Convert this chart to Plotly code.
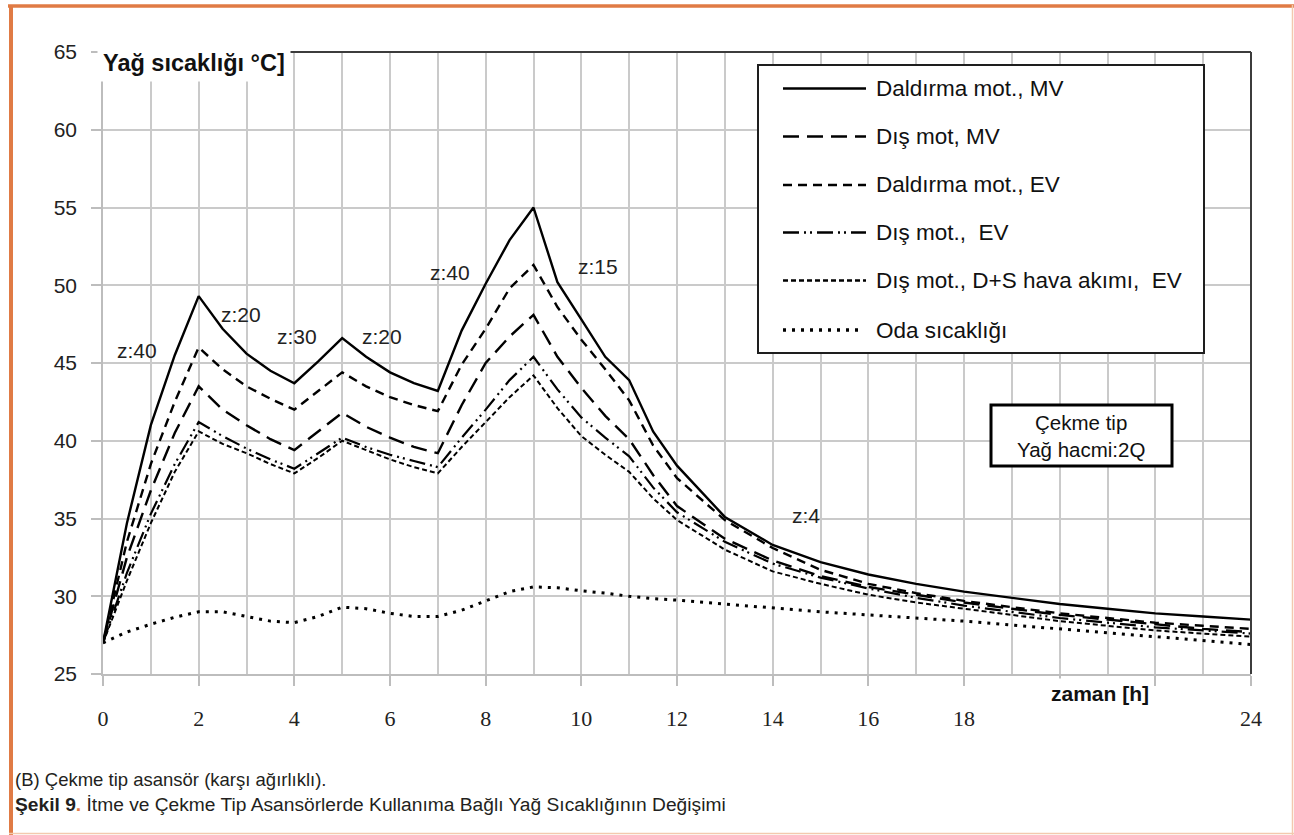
import plotly.graph_objects as go

# ---------------- data ----------------
hours = [0, 0.5, 1, 1.5, 2, 2.5, 3, 3.5, 4, 4.5, 5, 5.5, 6, 6.5, 7, 7.5, 8, 8.5, 9,
         9.5, 10, 10.5, 11, 11.5, 12, 13, 14, 15, 16, 17, 18, 19, 20, 21, 22, 23, 24]

daldirma_mv = [27.0, 34.7, 41.0, 45.5, 49.3, 47.2, 45.6, 44.5, 43.7, 45.1, 46.6, 45.4, 44.4, 43.7, 43.2,
               47.1, 50.1, 52.9, 55.0, 50.2, 47.8, 45.4, 43.9, 40.6, 38.4, 35.1, 33.3, 32.2, 31.4,
               30.8, 30.3, 29.9, 29.5, 29.2, 28.9, 28.7, 28.5]
dis_mv = [27.0, 32.5, 36.8, 40.5, 43.5, 42.0, 41.0, 40.1, 39.4, 40.6, 41.8, 40.9, 40.2, 39.6, 39.2,
          42.3, 45.0, 46.7, 48.1, 45.4, 43.4, 41.6, 40.1, 37.8, 35.8, 33.7, 32.3, 31.3, 30.6,
          30.1, 29.6, 29.2, 28.8, 28.5, 28.2, 27.9, 27.7]
daldirma_ev = [27.0, 33.5, 38.5, 42.5, 46.0, 44.6, 43.5, 42.7, 42.0, 43.2, 44.4, 43.5, 42.8, 42.3, 41.9,
               44.9, 47.2, 49.8, 51.3, 48.6, 46.5, 44.6, 42.6, 39.7, 37.6, 34.9, 33.1, 31.7, 30.8,
               30.2, 29.7, 29.3, 28.9, 28.6, 28.3, 28.1, 27.9]
dis_ev = [27.0, 31.5, 35.3, 38.5, 41.2, 40.3, 39.5, 38.8, 38.2, 39.2, 40.2, 39.6, 39.1, 38.7, 38.3,
          40.2, 42.0, 43.9, 45.4, 43.3, 41.5, 40.2, 39.0, 37.0, 35.4, 33.5, 32.1, 31.2, 30.5,
          29.9, 29.4, 29.0, 28.6, 28.3, 28.0, 27.8, 27.6]
dis_ds_ev = [27.0, 31.0, 34.7, 38.0, 40.6, 39.8, 39.2, 38.5, 37.9, 38.9, 40.0, 39.4, 38.8, 38.3, 37.9,
             39.6, 41.2, 42.8, 44.2, 42.1, 40.3, 39.1, 38.0, 36.3, 34.9, 33.0, 31.6, 30.8, 30.1,
             29.6, 29.2, 28.8, 28.4, 28.1, 27.8, 27.6, 27.4]
oda = [27.0, 27.7, 28.2, 28.65, 29.0, 29.0, 28.7, 28.4, 28.3, 28.7, 29.3, 29.2, 28.9, 28.7, 28.7,
       29.1, 29.7, 30.3, 30.6, 30.55, 30.35, 30.2, 30.0, 29.85, 29.75, 29.5, 29.25, 29.0, 28.8,
       28.6, 28.4, 28.15, 27.9, 27.65, 27.4, 27.15, 26.9]

series_names = ["Daldırma mot., MV", "Dış mot, MV", "Daldırma mot., EV",
                "Dış mot.,  EV", "Dış mot., D+S hava akımı,  EV", "Oda sıcaklığı"]
series_values = [daldirma_mv, dis_mv, daldirma_ev, dis_ev, dis_ds_ev, oda]

x_tick_vals = [0, 2, 4, 6, 8, 10, 12, 14, 16, 18, 20, 22, 24]
x_tick_text = ["0", "2", "4", "6", "8", "10", "12", "14", "16", "18", "", "", "24"]
x_minor_vals = [1, 3, 5, 7, 9, 11, 13, 15, 17, 19, 21, 23]

z_labels = ["z:40", "z:20", "z:30", "z:20", "z:40", "z:15", "z:4"]
z_x = [0.71, 2.89, 4.06, 5.83, 7.26, 10.35, 14.69]
z_y = [45.8, 48.1, 46.7, 46.7, 50.8, 51.2, 35.2]

# ---------------- styles ----------------
dashes = ["solid", "16px,8px", "9px,6px", "16px,5px,2px,4px,2px,5px", "5px,3px", "3px,6px"]
widths = [2.4, 2.4, 2.4, 2.2, 2.0, 3.0]

W, H = 1294, 835
L, R, T, B = 103, 1251, 52, 674


def px(xp):
    return (xp - L) / (R - L)


def py(yp):
    return (B - yp) / (B - T)


fig = go.Figure()
for name, vals, d, w in zip(series_names, series_values, dashes, widths):
    fig.add_trace(go.Scatter(x=hours, y=vals, mode="lines", name=name,
                             line=dict(color="black", width=w, dash=d),
                             showlegend=False, hoverinfo="skip"))

shapes = []
# outer orange frame
shapes.append(dict(type="line", xref="paper", yref="paper", x0=px(8), x1=px(1294), y0=py(6), y1=py(6),
                   line=dict(color="#E07B45", width=3.5), layer="above"))
shapes.append(dict(type="line", xref="paper", yref="paper", x0=px(11), x1=px(11), y0=py(5), y1=py(835),
                   line=dict(color="#E07B45", width=4), layer="above"))
shapes.append(dict(type="line", xref="paper", yref="paper", x0=px(1292.5), x1=px(1292.5), y0=py(5), y1=py(835),
                   line=dict(color="#F3C9AE", width=1.5), layer="above"))
shapes.append(dict(type="line", xref="paper", yref="paper", x0=px(9), x1=px(1294), y0=py(833.5), y1=py(833.5),
                   line=dict(color="#F3C9AE", width=1.5), layer="above"))
# plot frame top/right
shapes.append(dict(type="line", xref="paper", yref="paper", x0=0, x1=1, y0=1, y1=1,
                   line=dict(color="#3C3C3C", width=2), layer="above"))
shapes.append(dict(type="line", xref="paper", yref="paper", x0=1, x1=1, y0=0, y1=1,
                   line=dict(color="#3C3C3C", width=2), layer="above"))
# legend box
shapes.append(dict(type="rect", xref="paper", yref="paper", x0=px(758), x1=px(1204), y0=py(353), y1=py(65),
                   line=dict(color="#1E1E1E", width=2), fillcolor="white", layer="above"))
legend_rows = [88.5, 136.5, 185, 232.5, 280.5, 330]
for ry, d, w in zip(legend_rows, dashes, widths):
    x1 = 866 if d != "3px,6px" else 862
    shapes.append(dict(type="line", xref="paper", yref="paper", x0=px(783), x1=px(x1), y0=py(ry), y1=py(ry),
                       line=dict(color="black", width=w + 0.3, dash=d), layer="above"))
# info box
shapes.append(dict(type="rect", xref="paper", yref="paper", x0=px(991), x1=px(1172), y0=py(466), y1=py(405),
                   line=dict(color="black", width=3), fillcolor="white", layer="above"))

annotations = []
for name, ry in zip(series_names, legend_rows):
    annotations.append(dict(text=name, xref="paper", yref="paper", x=px(874), y=py(ry), xanchor="left",
                            yanchor="middle", showarrow=False,
                            font=dict(family="Liberation Sans", size=22.5, color="#111")))
annotations.append(dict(text="Çekme tip<br>Yağ hacmi:2Q", xref="paper", yref="paper", x=px(1081), y=py(436),
                        xanchor="center", yanchor="middle", showarrow=False,
                        font=dict(family="Liberation Sans", size=20.5, color="#111")))
for t, zx, zy in zip(z_labels, z_x, z_y):
    annotations.append(dict(text=t, x=zx, y=zy, xref="x", yref="y", showarrow=False,
                            font=dict(family="Liberation Sans", size=21, color="#222")))
annotations.append(dict(text="<b>Yağ sıcaklığı °C]</b>", xref="paper", yref="paper", x=px(97), y=py(63),
                        xanchor="left", yanchor="middle", showarrow=False, bgcolor="white", borderpad=5,
                        font=dict(family="Liberation Sans", size=23.5, color="#111")))
annotations.append(dict(text="<b>zaman [h]</b>", xref="paper", yref="paper", x=px(1100), y=py(693),
                        xanchor="center", yanchor="middle", showarrow=False, bgcolor="white", borderpad=3,
                        font=dict(family="Liberation Sans", size=21, color="#111")))
annotations.append(dict(text="(B) Çekme tip asansör (karşı ağırlıklı).", xref="paper", yref="paper",
                        x=px(13), y=py(779), xanchor="left", yanchor="middle", showarrow=False,
                        font=dict(family="Liberation Sans", size=18.5, color="#231F20")))
annotations.append(dict(text="<b>Şekil 9</b><span style='color:#E07B45'><b>.</b></span> İtme ve Çekme Tip Asansörlerde Kullanıma Bağlı Yağ Sıcaklığının Değişimi",
                        xref="paper", yref="paper", x=px(13), y=py(804), xanchor="left", yanchor="middle",
                        showarrow=False, font=dict(family="Liberation Sans", size=19.2, color="#231F20")))

fig.update_layout(
    width=W, height=H,
    margin=dict(l=L, r=W - R, t=T, b=H - B, pad=0),
    paper_bgcolor="white", plot_bgcolor="white",
    showlegend=False,
    shapes=shapes, annotations=annotations,
    xaxis=dict(range=[0, 24], tickmode="array", tickvals=x_tick_vals, ticktext=x_tick_text,
               ticks="outside", ticklen=10, tickwidth=1.5, tickcolor="#BDBDBD",
               showgrid=True, gridcolor="#CACACA", gridwidth=1.5,
               minor=dict(tickvals=x_minor_vals, showgrid=True, gridcolor="#CACACA", gridwidth=1.5, ticks=""),
               showline=True, linecolor="#BDBDBD", linewidth=1.5, zeroline=False,
               ticklabelstandoff=14,
               tickfont=dict(family="Liberation Serif", size=22, color="#222")),
    yaxis=dict(range=[25, 65], tickmode="linear", tick0=25, dtick=5,
               ticks="outside", ticklen=10, tickwidth=1.5, tickcolor="#BDBDBD",
               showgrid=True, gridcolor="#CACACA", gridwidth=1.5,
               showline=True, linecolor="#BDBDBD", linewidth=1.5, zeroline=False,
               ticklabelstandoff=10,
               tickfont=dict(family="Liberation Sans", size=21, color="#222")),
)

fig.write_html("out.html", config={"displayModeBar": False},
               post_script="document.body.style.margin='0px';document.body.style.overflow='hidden';")
